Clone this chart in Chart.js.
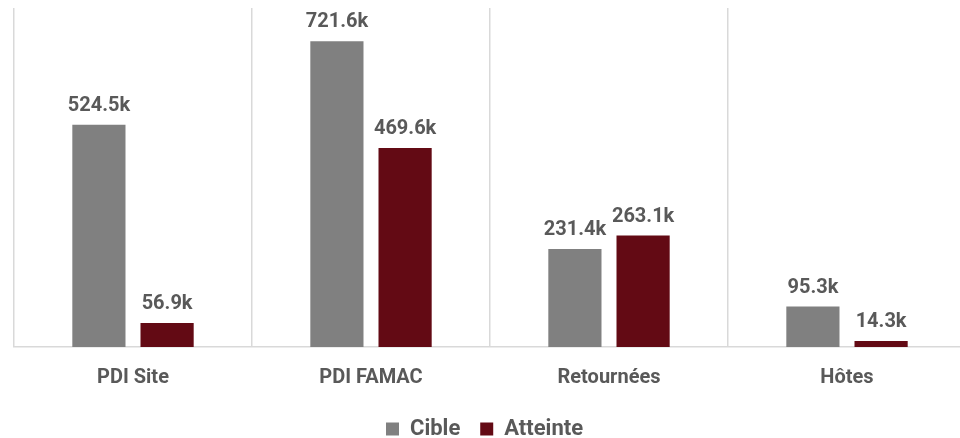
<!DOCTYPE html>
<html>
<head>
<meta charset="utf-8">
<script src="https://cdn.jsdelivr.net/npm/chart.js@4.4.0/dist/chart.umd.min.js"></script>
<style>
  html, body { margin: 0; padding: 0; background: #fff; overflow: hidden; }
  #wrap { width: 966px; height: 438px; position: relative; }
</style>
</head>
<body>
<div id="wrap"><canvas id="barras"></canvas></div>
<script>
var categories = ["PDI Site", "PDI FAMAC", "Retournées", "Hôtes"];
var cible = [524.5, 721.6, 231.4, 95.3];
var atteinte = [56.9, 469.6, 263.1, 14.3];
var seriesNames = ["Cible", "Atteinte"];

var FONT = "Roboto, 'DejaVu Sans', sans-serif";
var TEXT = "#595959";

// etiquettes au-dessus des barres
var etiquettes = {
    id: "etiquettes",
    afterDatasetsDraw: function (chart) {
        var ctx = chart.ctx;
        ctx.save();
        ctx.font = "bold 20px " + FONT;
        ctx.fillStyle = TEXT;
        ctx.textAlign = "center";
        ctx.textBaseline = "bottom";
        chart.data.datasets.forEach(function (ds, i) {
            chart.getDatasetMeta(i).data.forEach(function (bar, j) {
                ctx.fillText(ds.data[j].toFixed(1) + "k", bar.x, bar.y - 9);
            });
        });
        ctx.restore();
    }
};

function cargaGrafico() {
    var ctx = document.getElementById("barras").getContext("2d");
    new Chart(ctx, {
        type: "bar",
        data: {
            labels: categories,
            datasets: [{
                label: seriesNames[0],
                backgroundColor: "#808080",
                data: cible
            }, {
                label: seriesNames[1],
                backgroundColor: "#630a14",
                data: atteinte
            }]
        },
        options: {
            responsive: true,
            maintainAspectRatio: false,
            animation: false,
            datasets: {
                bar: { categoryPercentage: 0.573, barPercentage: 0.78 }
            },
            layout: { padding: { left: 14, right: 0, top: 8, bottom: -12 } },
            plugins: {
                tooltip: { enabled: false },
                legend: {
                    position: "bottom",
                    labels: {
                        boxWidth: 13,
                        boxHeight: 13,
                        padding: 9,
                        color: TEXT,
                        font: { family: FONT, size: 22, weight: "bold" },
                        generateLabels: function (chart) {
                            var items = Chart.defaults.plugins.legend.labels.generateLabels(chart);
                            items.forEach(function (it) { it.text = it.text + "  "; });
                            return items;
                        }
                    }
                }
            },
            scales: {
                x: {
                    grid: { offset: true, color: "#d9d9d9", lineWidth: 1.5, drawTicks: false },
                    border: { color: "#d9d9d9", width: 1.5 },
                    ticks: {
                        color: TEXT,
                        padding: 19,
                        font: { family: FONT, size: 20, weight: "bold" }
                    }
                },
                y: {
                    display: false,
                    min: 0,
                    max: 800
                }
            }
        },
        plugins: [etiquettes]
    });
}

cargaGrafico();
</script>
</body>
</html>
